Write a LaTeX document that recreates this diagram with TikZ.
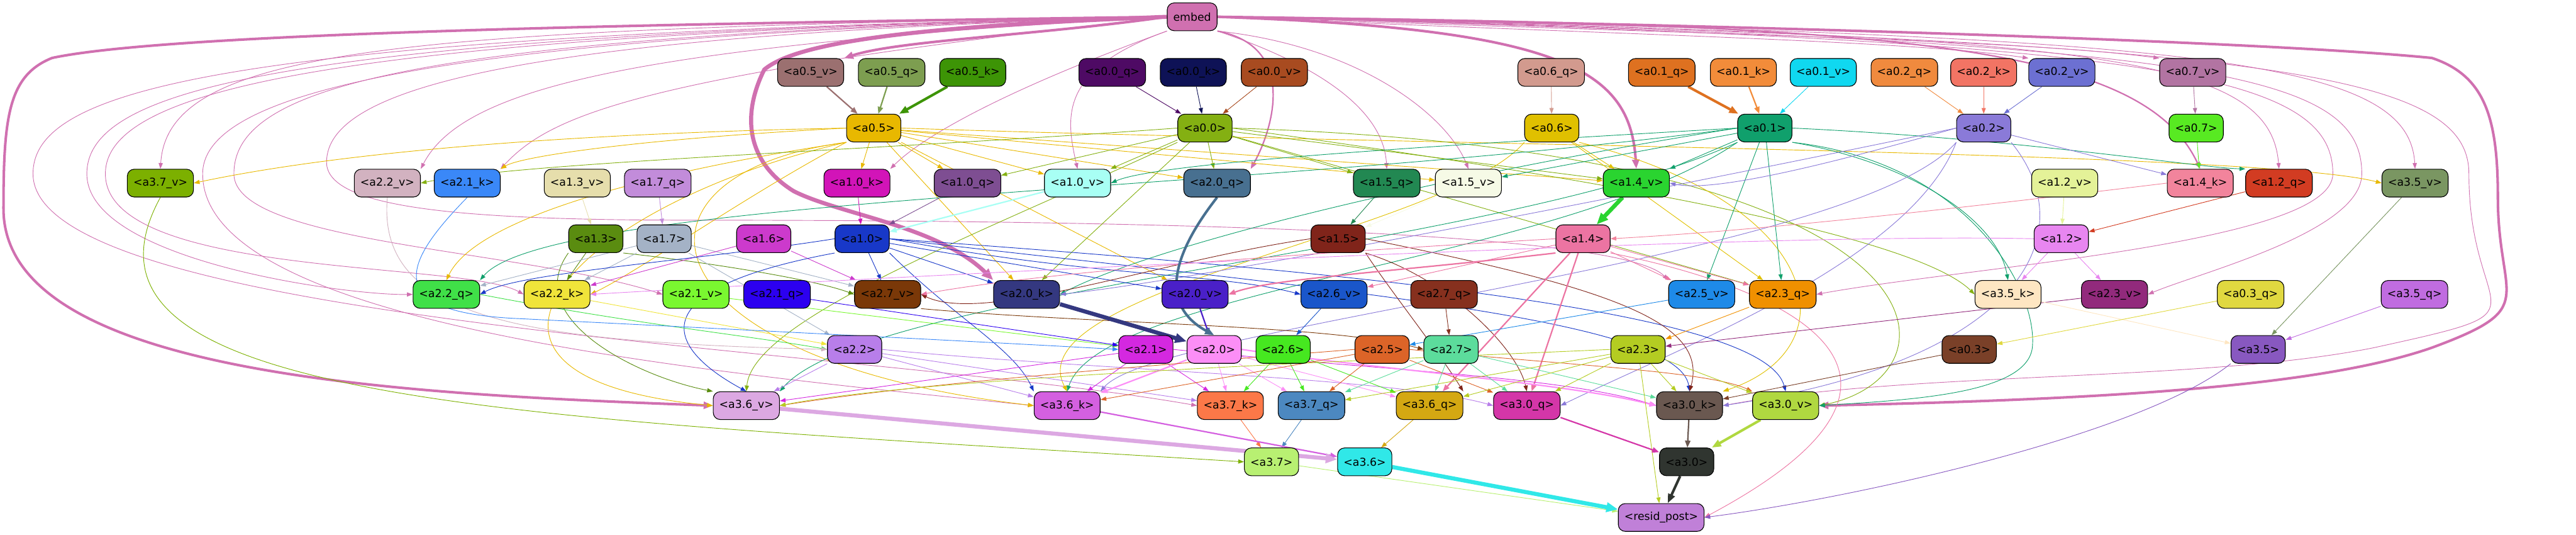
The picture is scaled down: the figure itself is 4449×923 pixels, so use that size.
\documentclass[tikz,border=0pt]{standalone}
\usepackage{fontspec}
\setmainfont{DejaVu Sans}
\usetikzlibrary{arrows.meta,backgrounds}
\newcommand{\tg}[1]{\textless#1\textgreater}
\definecolor{cembed}{HTML}{D070B0}
\definecolor{c05v}{HTML}{9B7070}\definecolor{c05q}{HTML}{7D9E50}\definecolor{c05k}{HTML}{3D9406}
\definecolor{c00q}{HTML}{4E0A64}\definecolor{c00k}{HTML}{0E1256}\definecolor{c00v}{HTML}{A84B20}
\definecolor{c06q}{HTML}{D29A8E}\definecolor{c01q}{HTML}{DE7120}\definecolor{c01k}{HTML}{F28C3A}
\definecolor{c01v}{HTML}{10D8F0}\definecolor{c02q}{HTML}{F08A3E}\definecolor{c02k}{HTML}{F27464}
\definecolor{c02v}{HTML}{6C70D2}\definecolor{c07v}{HTML}{B274A2}
\definecolor{c05}{HTML}{E8B800}\definecolor{c00}{HTML}{84B012}\definecolor{c06}{HTML}{E0C000}
\definecolor{c01}{HTML}{10A06C}\definecolor{c02}{HTML}{8A7AD8}\definecolor{c07}{HTML}{58EA22}
\definecolor{c37v}{HTML}{7CB000}\definecolor{c22v}{HTML}{D2B2C0}\definecolor{c21k}{HTML}{3A88F8}
\definecolor{c13v}{HTML}{E6DEAC}\definecolor{c17q}{HTML}{C28CDA}\definecolor{c10k}{HTML}{D214B8}
\definecolor{c10q}{HTML}{7E4E92}\definecolor{c10v}{HTML}{A8FFF4}\definecolor{c20q}{HTML}{487090}
\definecolor{c15q}{HTML}{228852}\definecolor{c15v}{HTML}{F6FAE6}\definecolor{c14v}{HTML}{2AD430}
\definecolor{c12v}{HTML}{E4F298}\definecolor{c14k}{HTML}{F2849C}\definecolor{c12q}{HTML}{D23C22}
\definecolor{c35v}{HTML}{7A9662}
\definecolor{c13}{HTML}{5A8C10}\definecolor{c17}{HTML}{A4B2C6}\definecolor{c16}{HTML}{CC3ACC}
\definecolor{c10}{HTML}{1838C8}\definecolor{c15}{HTML}{80241A}\definecolor{c14}{HTML}{EC74A2}
\definecolor{c12}{HTML}{E886F0}
\definecolor{c22q}{HTML}{40E048}\definecolor{c22k}{HTML}{F0E43A}\definecolor{c21v}{HTML}{7AF830}
\definecolor{c21q}{HTML}{2C00F0}\definecolor{c27v}{HTML}{7A3808}\definecolor{c20k}{HTML}{343880}
\definecolor{c20v}{HTML}{4A20C8}\definecolor{c26v}{HTML}{1A56CA}\definecolor{c27q}{HTML}{86301E}
\definecolor{c25v}{HTML}{1E8AE8}\definecolor{c23q}{HTML}{F09000}\definecolor{c35k}{HTML}{FEE6C2}
\definecolor{c23v}{HTML}{922A7C}\definecolor{c03q}{HTML}{E0D840}\definecolor{c35q}{HTML}{C06CE0}
\definecolor{c22}{HTML}{B87EEA}\definecolor{c21}{HTML}{D428E0}\definecolor{c20}{HTML}{FC8EF6}
\definecolor{c26}{HTML}{46E820}\definecolor{c25}{HTML}{DC6428}\definecolor{c27}{HTML}{5CDC9C}
\definecolor{c23}{HTML}{B4CC22}\definecolor{c03}{HTML}{7A4028}\definecolor{c35}{HTML}{8858C0}
\definecolor{c36v}{HTML}{DCA8E2}\definecolor{c36k}{HTML}{D460E0}\definecolor{c37k}{HTML}{FC7848}
\definecolor{c37q}{HTML}{4C88C0}\definecolor{c36q}{HTML}{D4A812}\definecolor{c30q}{HTML}{D436A8}
\definecolor{c30k}{HTML}{6A5850}\definecolor{c30v}{HTML}{B0D840}
\definecolor{c37}{HTML}{B8F072}\definecolor{c36}{HTML}{30E8E8}\definecolor{c30}{HTML}{303530}
\definecolor{cresid}{HTML}{C080D8}
\begin{document}
\begin{tikzpicture}[x=0.5pt, y=-0.5pt,
  blk/.style={draw=black, line width=0.6pt, rounded corners=6pt, minimum height=24pt,
    inner xsep=5.2pt, inner ysep=2pt, font=\fontsize{9.4}{11}\selectfont},
  ln/.style={-{Triangle[length=5pt,width=3.6pt]}, line width=0.5pt},
  lnm/.style={-{Triangle[length=6pt,width=4.6pt]}, line width=1.2pt},
  lnb/.style={-{Triangle[length=8pt,width=6pt]}, line width=2.2pt},
  lnh/.style={-{Triangle[length=10pt,width=8pt]}, line width=3.5pt}]
  \useasboundingbox (0,0) rectangle (4449,923);
  \node[blk, fill=cembed] (embed) at (2059,29) {embed};
  \node[blk, fill=c05v] (a05v) at (1400,125) {\tg{a0.5\_v}};
  \node[blk, fill=c05q] (a05q) at (1540,125) {\tg{a0.5\_q}};
  \node[blk, fill=c05k] (a05k) at (1680,125) {\tg{a0.5\_k}};
  \node[blk, fill=c00q] (a00q) at (1921,125) {\tg{a0.0\_q}};
  \node[blk, fill=c00k] (a00k) at (2061,125) {\tg{a0.0\_k}};
  \node[blk, fill=c00v] (a00v) at (2201,125) {\tg{a0.0\_v}};
  \node[blk, fill=c06q] (a06q) at (2679,125) {\tg{a0.6\_q}};
  \node[blk, fill=c01q] (a01q) at (2870,125) {\tg{a0.1\_q}};
  \node[blk, fill=c01k] (a01k) at (3011,125) {\tg{a0.1\_k}};
  \node[blk, fill=c01v] (a01v) at (3149,125) {\tg{a0.1\_v}};
  \node[blk, fill=c02q] (a02q) at (3289,125) {\tg{a0.2\_q}};
  \node[blk, fill=c02k] (a02k) at (3426,125) {\tg{a0.2\_k}};
  \node[blk, fill=c02v] (a02v) at (3561,125) {\tg{a0.2\_v}};
  \node[blk, fill=c07v] (a07v) at (3787,125) {\tg{a0.7\_v}};
  \node[blk, fill=c05] (a05) at (1509,221) {\tg{a0.5}};
  \node[blk, fill=c00] (a00) at (2081,221) {\tg{a0.0}};
  \node[blk, fill=c06] (a06) at (2680,221) {\tg{a0.6}};
  \node[blk, fill=c01] (a01) at (3048,221) {\tg{a0.1}};
  \node[blk, fill=c02] (a02) at (3426,221) {\tg{a0.2}};
  \node[blk, fill=c07] (a07) at (3793,221) {\tg{a0.7}};
  \node[blk, fill=c37v] (a37v) at (277,316) {\tg{a3.7\_v}};
  \node[blk, fill=c22v] (a22v) at (669,316) {\tg{a2.2\_v}};
  \node[blk, fill=c21k] (a21k) at (807,316) {\tg{a2.1\_k}};
  \node[blk, fill=c13v] (a13v) at (997,316) {\tg{a1.3\_v}};
  \node[blk, fill=c17q] (a17q) at (1136,316) {\tg{a1.7\_q}};
  \node[blk, fill=c10k] (a10k) at (1480,316) {\tg{a1.0\_k}};
  \node[blk, fill=c10q] (a10q) at (1671,316) {\tg{a1.0\_q}};
  \node[blk, fill=c10v] (a10v) at (1861,316) {\tg{a1.0\_v}};
  \node[blk, fill=c20q] (a20q) at (2102,316) {\tg{a2.0\_q}};
  \node[blk, fill=c15q] (a15q) at (2395,316) {\tg{a1.5\_q}};
  \node[blk, fill=c15v] (a15v) at (2536,316) {\tg{a1.5\_v}};
  \node[blk, fill=c14v] (a14v) at (2826,316) {\tg{a1.4\_v}};
  \node[blk, fill=c12v] (a12v) at (3566,316) {\tg{a1.2\_v}};
  \node[blk, fill=c14k] (a14k) at (3800,316) {\tg{a1.4\_k}};
  \node[blk, fill=c12q] (a12q) at (3936,316) {\tg{a1.2\_q}};
  \node[blk, fill=c35v] (a35v) at (4171,316) {\tg{a3.5\_v}};
  \node[blk, fill=c13] (a13) at (1029,412) {\tg{a1.3}};
  \node[blk, fill=c17] (a17) at (1147,412) {\tg{a1.7}};
  \node[blk, fill=c16] (a16) at (1319,412) {\tg{a1.6}};
  \node[blk, fill=c10] (a10) at (1489,412) {\tg{a1.0}};
  \node[blk, fill=c15] (a15) at (2311,412) {\tg{a1.5}};
  \node[blk, fill=c14] (a14) at (2734,412) {\tg{a1.4}};
  \node[blk, fill=c12] (a12) at (3560,412) {\tg{a1.2}};
  \node[blk, fill=c22q] (a22q) at (771,508) {\tg{a2.2\_q}};
  \node[blk, fill=c22k] (a22k) at (962,508) {\tg{a2.2\_k}};
  \node[blk, fill=c21v] (a21v) at (1202,508) {\tg{a2.1\_v}};
  \node[blk, fill=c21q] (a21q) at (1342,508) {\tg{a2.1\_q}};
  \node[blk, fill=c27v] (a27v) at (1533,508) {\tg{a2.7\_v}};
  \node[blk, fill=c20k] (a20k) at (1773,508) {\tg{a2.0\_k}};
  \node[blk, fill=c20v] (a20v) at (2064,508) {\tg{a2.0\_v}};
  \node[blk, fill=c26v] (a26v) at (2304,508) {\tg{a2.6\_v}};
  \node[blk, fill=c27q] (a27q) at (2494,508) {\tg{a2.7\_q}};
  \node[blk, fill=c25v] (a25v) at (2939,508) {\tg{a2.5\_v}};
  \node[blk, fill=c23q] (a23q) at (3079,508) {\tg{a2.3\_q}};
  \node[blk, fill=c35k] (a35k) at (3468,508) {\tg{a3.5\_k}};
  \node[blk, fill=c23v] (a23v) at (3652,508) {\tg{a2.3\_v}};
  \node[blk, fill=c03q] (a03q) at (3887,508) {\tg{a0.3\_q}};
  \node[blk, fill=c35q] (a35q) at (4170,508) {\tg{a3.5\_q}};
  \node[blk, fill=c22] (a22) at (1476,603) {\tg{a2.2}};
  \node[blk, fill=c21] (a21) at (1979,603) {\tg{a2.1}};
  \node[blk, fill=c20] (a20) at (2097,603) {\tg{a2.0}};
  \node[blk, fill=c26] (a26) at (2216,603) {\tg{a2.6}};
  \node[blk, fill=c25] (a25) at (2387,603) {\tg{a2.5}};
  \node[blk, fill=c27] (a27) at (2506,603) {\tg{a2.7}};
  \node[blk, fill=c23] (a23) at (2829,603) {\tg{a2.3}};
  \node[blk, fill=c03] (a03) at (3401,603) {\tg{a0.3}};
  \node[blk, fill=c35] (a35) at (3900,603) {\tg{a3.5}};
  \node[blk, fill=c36v] (a36v) at (1289,700) {\tg{a3.6\_v}};
  \node[blk, fill=c36k] (a36k) at (1843,700) {\tg{a3.6\_k}};
  \node[blk, fill=c37k] (a37k) at (2125,700) {\tg{a3.7\_k}};
  \node[blk, fill=c37q] (a37q) at (2265,700) {\tg{a3.7\_q}};
  \node[blk, fill=c36q] (a36q) at (2469,700) {\tg{a3.6\_q}};
  \node[blk, fill=c30q] (a30q) at (2637,700) {\tg{a3.0\_q}};
  \node[blk, fill=c30k] (a30k) at (2918,700) {\tg{a3.0\_k}};
  \node[blk, fill=c30v] (a30v) at (3084,700) {\tg{a3.0\_v}};
  \node[blk, fill=c37] (a37) at (2196,797) {\tg{a3.7}};
  \node[blk, fill=c36] (a36) at (2357,797) {\tg{a3.6}};
  \node[blk, fill=c30] (a30) at (2913,797) {\tg{a3.0}};
  \node[blk, fill=cresid] (resid) at (2869,893) {\tg{resid\_post}};
  \begin{pgfonlayer}{background}
  \draw[lnh, cembed] (embed.west) .. controls (1600,45) and (1380,70) .. (1320,120) .. controls (1280,200) and (1290,280) .. (1371,330) .. controls (1450,370) and (1620,390) .. (a20k.north west);
  \draw[lnb, cembed] (embed.west) .. controls (1200,40) and (300,55) .. (90,100) .. controls (15,130) and (6,200) .. (6,360) .. controls (6,650) and (700,680) .. (a36v.west);
  \draw[lnb, cembed] (embed.east) .. controls (2900,40) and (3900,70) .. (4200,100) .. controls (4290,130) and (4314,200) .. (4314,340) .. controls (4314,520) and (4390,530) .. (4200,600) .. controls (4000,670) and (3600,690) .. (a30v.east);
  \draw[lnb, cembed] (embed.west) .. controls (1800,60) and (1550,70) .. (a05v.north east);
  \draw[lnb, cembed] (embed.east) .. controls (2700,50) and (2815,120) .. (a14v.north);
  \draw[lnm, cembed] (embed.south east) .. controls (2240,80) and (2200,220) .. (a20q.north east);
  \draw[lnm, cembed] (embed.east) .. controls (3300,40) and (3700,80) .. (a14k.north);
  \draw[ln, cembed] (embed.west) .. controls (700,50) and (290,80) .. (a37v.north);
  \draw[ln, cembed] (embed.west) .. controls (1100,80) and (800,150) .. (a22v.north east);
  \draw[ln, cembed] (embed.west) .. controls (1100,130) and (950,200) .. (a21k.north east);
  \draw[ln, cembed] (embed.west) .. controls (500,60) and (150,150) .. (150,300) .. controls (150,450) and (600,510) .. (a22q.west);
  \draw[ln, cembed] (embed.west) .. controls (600,60) and (182,150) .. (182,300) .. controls (182,480) and (800,450) .. (a22k.west);
  \draw[ln, cembed] (embed.west) .. controls (700,60) and (404,150) .. (404,300) .. controls (404,420) and (900,430) .. (a21v.west);
  \draw[ln, cembed] (embed.west) .. controls (400,60) and (57,150) .. (57,300) .. controls (57,560) and (1500,600) .. (a37k.west);
  \draw[ln, cembed] (embed.west) .. controls (800,60) and (350,150) .. (350,300) .. controls (350,560) and (1200,640) .. (a36k.west);
  \draw[ln, cembed] (embed.west) .. controls (900,60) and (564,150) .. (564,280) .. controls (564,360) and (800,380) .. (1200,380) .. controls (2000,380) and (2800,400) .. (a25v.north west);
  \draw[ln, cembed] (embed.south west) .. controls (1750,150) and (1600,230) .. (a10k.north east);
  \draw[ln, cembed] (embed.south west) .. controls (1830,120) and (1840,200) .. (a10v.north);
  \draw[ln, cembed] (embed.south east) .. controls (2300,120) and (2390,200) .. (a15q.north);
  \draw[ln, cembed] (embed.south east) .. controls (2350,80) and (2500,200) .. (a15v.north);
  \draw[ln, cembed] (embed.east) .. controls (2800,60) and (3300,70) .. (a02v.north west);
  \draw[ln, cembed] (embed.east) .. controls (3000,60) and (3500,70) .. (a07v.north west);
  \draw[ln, cembed] (embed.east) .. controls (3600,60) and (3920,90) .. (a12q.north);
  \draw[ln, cembed] (embed.east) .. controls (3800,60) and (4160,100) .. (a35v.north);
  \draw[ln, cembed] (embed.east) .. controls (3700,70) and (4029,120) .. (4029,300) .. controls (4029,420) and (3400,460) .. (a23q.east);
  \draw[ln, cembed] (embed.east) .. controls (3800,70) and (4079,120) .. (4079,300) .. controls (4079,400) and (3800,470) .. (a23v.east);
  \draw[ln, cembed] (embed.east) .. controls (3900,70) and (4264,120) .. (4264,300) .. controls (4264,560) and (4420,530) .. (4100,600) .. controls (3800,660) and (3300,640) .. (a30k.east);
  \draw[lnm, c05v] (a05v) -- (a05);
  \draw[lnm, c05q] (a05q) -- (a05);
  \draw[lnb, c05k] (a05k) -- (a05);
  \draw[ln, c00q] (a00q) -- (a00);
  \draw[ln, c00k] (a00k) -- (a00);
  \draw[ln, c00v] (a00v) -- (a00);
  \draw[ln, c06q] (a06q) -- (a06);
  \draw[lnb, c01q] (a01q) -- (a01);
  \draw[lnm, c01k] (a01k) -- (a01);
  \draw[ln, c01v] (a01v) -- (a01);
  \draw[ln, c02q] (a02q) -- (a02);
  \draw[ln, c02k] (a02k) -- (a02);
  \draw[ln, c02v] (a02v) -- (a02);
  \draw[ln, c07v] (a07v) -- (a07);
  \draw[ln, c05] (a05) -- (a10k);
  \draw[ln, c05] (a05) -- (a10q);
  \draw[ln, c05] (a05) -- (a10v);
  \draw[ln, c05] (a05) -- (a20q);
  \draw[ln, c05] (a05.west) .. controls (1000,230) and (600,260) .. (a37v.east);
  \draw[ln, c05] (a05.west) .. controls (1100,240) and (900,270) .. (a21k.north east);
  \draw[ln, c05] (a05.south west) .. controls (1100,300) and (820,380) .. (a22q.north);
  \draw[ln, c05] (a05.south west) .. controls (1300,330) and (1100,470) .. (a22k.east);
  \draw[ln, c05] (a05) -- (a20k);
  \draw[ln, c05] (a05) -- (a20v);
  \draw[ln, c05] (a05) -- (a15v);
  \draw[ln, c05] (a05) -- (a14v);
  \draw[ln, c05] (a05.east) .. controls (2400,250) and (3900,260) .. (a35v.west);
  \draw[ln, c05] (a05.south west) .. controls (1000,350) and (700,650) .. (a36v.west);
  \draw[ln, c05] (a05.south west) .. controls (1050,300) and (1100,620) .. (a36k.west);
  \draw[ln, c00] (a00) -- (a10q);
  \draw[ln, c00] (a00) -- (a10v);
  \draw[ln, c00] (a00) -- (a20q);
  \draw[ln, c00] (a00.west) .. controls (1500,260) and (900,280) .. (a22v.east);
  \draw[ln, c00] (a00) -- (a15q);
  \draw[ln, c00] (a00) -- (a14v);
  \draw[ln, c00] (a00) -- (a20k);
  \draw[ln, c00] (a00.east) .. controls (2700,300) and (3300,400) .. (a35k.west);
  \draw[ln, c00] (a00) -- (a23q);
  \draw[ln, c00] (a00.south west) .. controls (1700,400) and (1300,550) .. (a36v.north);
  \draw[ln, c00] (a00.east) .. controls (3400,260) and (3400,650) .. (a30v.east);
  \draw[ln, c06] (a06) -- (a14v);
  \draw[ln, c06] (a06) -- (a23q);
  \draw[ln, c06] (a06.south east) .. controls (3150,350) and (3200,600) .. (a30k.north east);
  \draw[ln, c06] (a06.south west) .. controls (2500,400) and (1750,500) .. (a36k.north);
  \draw[ln, c01] (a01.west) .. controls (2500,250) and (2000,280) .. (a10v.east);
  \draw[ln, c01] (a01) -- (a15v);
  \draw[ln, c01] (a01) -- (a14v);
  \draw[ln, c01] (a01.east) .. controls (3500,240) and (3800,290) .. (a12q.north west);
  \draw[ln, c01] (a01.west) .. controls (2200,330) and (950,340) .. (a22q.north east);
  \draw[ln, c01] (a01.west) .. controls (2500,300) and (2000,420) .. (a20k.east);
  \draw[ln, c01] (a01) -- (a25v);
  \draw[ln, c01] (a01) -- (a23q);
  \draw[ln, c01] (a01.south east) .. controls (3300,280) and (3450,380) .. (a35k.north);
  \draw[ln, c01] (a01.south west) .. controls (2700,450) and (1900,500) .. (a36k.north);
  \draw[ln, c01] (a01.south west) .. controls (2600,430) and (1500,500) .. (a36v.north east);
  \draw[ln, c01] (a01.south east) .. controls (3400,280) and (3520,500) .. (3510,600) .. controls (3500,680) and (3300,690) .. (a30v.east);
  \draw[ln, c02] (a02.west) .. controls (3100,300) and (2950,330) .. (a14v.east);
  \draw[ln, c02] (a02) -- (a14k);
  \draw[ln, c02] (a02.west) .. controls (3000,300) and (2100,480) .. (a20k.east);
  \draw[ln, c02] (a02.south west) .. controls (3200,450) and (2000,560) .. (a36k.north east);
  \draw[ln, c02] (a02.south west) .. controls (3300,450) and (2900,600) .. (a30q.east);
  \draw[ln, c02] (a02.south east) .. controls (3600,400) and (3500,620) .. (a30k.east);
  \draw[ln, c07] (a07) -- (a14k);
  \draw[ln, c13v] (a13v) -- (a13);
  \draw[ln, c17q] (a17q) -- (a17);
  \draw[ln, c10k] (a10k) -- (a10);
  \draw[ln, c10q] (a10q) -- (a10);
  \draw[lnm, c10v] (a10v) -- (a10);
  \draw[ln, c15q] (a15q) -- (a15);
  \draw[ln, c15v] (a15v) -- (a15);
  \draw[lnh, c14v] (a14v) -- (a14);
  \draw[ln, c12v] (a12v) -- (a12);
  \draw[ln, c12q] (a12q) -- (a12);
  \draw[ln, c14k] (a14k.west) .. controls (3300,370) and (3000,400) .. (a14.east);
  \draw[ln, c13] (a13) -- (a22k);
  \draw[ln, c13] (a13.south east) .. controls (1200,450) and (1400,480) .. (a27v.west);
  \draw[ln, c13] (a13.south west) .. controls (900,550) and (1100,650) .. (a36v.north west);
  \draw[ln, c17] (a17) -- (a22q);
  \draw[ln, c17] (a17) -- (a22k);
  \draw[ln, c17] (a17) -- (a27v);
  \draw[ln, c17] (a17) -- (a22);
  \draw[ln, c16] (a16) -- (a27v);
  \draw[ln, c16] (a16) -- (a22k);
  \draw[ln, c10] (a10) -- (a27v);
  \draw[ln, c10] (a10) -- (a20k);
  \draw[ln, c10] (a10) -- (a20v);
  \draw[ln, c10] (a10.west) .. controls (1200,450) and (900,470) .. (a22q.east);
  \draw[ln, c10] (a10.south west) .. controls (1100,500) and (1150,600) .. (a36v.north);
  \draw[ln, c10] (a10.south east) .. controls (1650,550) and (1750,600) .. (a36k.north west);
  \draw[ln, c10] (a10.east) .. controls (2300,500) and (2900,550) .. (a30k.north);
  \draw[ln, c10] (a10.east) .. controls (2500,480) and (3050,550) .. (a30v.north);
  \draw[ln, c10] (a10.east) .. controls (1900,480) and (2100,470) .. (a26v.west);
  \draw[ln, c15] (a15.west) .. controls (2000,450) and (1700,560) .. (a27v.east);
  \draw[ln, c15] (a15.south east) .. controls (2400,500) and (2480,600) .. (a36q.north east);
  \draw[ln, c15] (a15.south east) .. controls (2500,480) and (2620,600) .. (a30q.north);
  \draw[ln, c15] (a15.east) .. controls (2800,500) and (2950,560) .. (a30k.north);
  \draw[lnm, c14] (a14.south west) .. controls (2400,470) and (2200,480) .. (a20v.east);
  \draw[ln, c14] (a14) -- (a26v);
  \draw[ln, c14] (a14) -- (a25v);
  \draw[ln, c14] (a14) -- (a23q);
  \draw[lnm, c14] (a14) -- (a36q);
  \draw[lnm, c14] (a14) -- (a30q);
  \draw[ln, c14] (a14.south east) .. controls (3100,500) and (3400,650) .. (resid.east);
  \draw[ln, c14] (a14.west) .. controls (2200,440) and (1800,470) .. (a27v.east);
  \draw[ln, c12] (a12) -- (a35k);
  \draw[ln, c12] (a12) -- (a23v);
  \draw[ln, c12] (a12.west) .. controls (3000,400) and (1500,480) .. (a22k.east);
  \draw[ln, c22q] (a22q.east) .. controls (1100,560) and (1300,580) .. (a22.west);
  \draw[ln, c22k] (a22k) -- (a22);
  \draw[ln, c22v] (a22v.south) .. controls (650,550) and (900,590) .. (a22.west);
  \draw[ln, c21k] (a21k.south) .. controls (700,450) and (650,540) .. (900,550) .. controls (1300,570) and (1700,590) .. (a21.west);
  \draw[ln, c21v] (a21v) -- (a21);
  \draw[ln, c21q] (a21q) -- (a21);
  \draw[ln, c27v] (a27v.south east) .. controls (1900,560) and (2300,560) .. (a27.west);
  \draw[ln, c27q] (a27q) -- (a27);
  \draw[lnh, c20k] (a20k) -- (a20);
  \draw[lnm, c20v] (a20v) -- (a20);
  \draw[lnb, c20q] (a20q.south) .. controls (2040,420) and (1990,520) .. (a20.north);
  \draw[ln, c26v] (a26v) -- (a26);
  \draw[ln, c25v] (a25v) -- (a25);
  \draw[ln, c23q] (a23q) -- (a23);
  \draw[ln, c23v] (a23v) -- (a23);
  \draw[ln, c35k] (a35k) -- (a35);
  \draw[ln, c35q] (a35q) -- (a35);
  \draw[ln, c35v] (a35v) -- (a35);
  \draw[ln, c03q] (a03q) -- (a03);
  \draw[ln, c22] (a22) -- (a36v);
  \draw[ln, c22] (a22) -- (a36k);
  \draw[ln, c22] (a22) -- (a37k);
  \draw[ln, c22] (a22.east) .. controls (1900,640) and (2400,650) .. (a30q.west);
  \draw[ln, c21] (a21) -- (a36v);
  \draw[ln, c21] (a21) -- (a36k);
  \draw[ln, c21] (a21) -- (a37k);
  \draw[ln, c21] (a21.east) .. controls (2400,640) and (2700,650) .. (a30k.west);
  \draw[lnm, c20] (a20) -- (a36k);
  \draw[ln, c20] (a20) -- (a37k);
  \draw[ln, c20] (a20) -- (a37q);
  \draw[ln, c20] (a20) -- (a36q);
  \draw[lnm, c20] (a20.east) .. controls (2400,640) and (2700,660) .. (a30k.west);
  \draw[ln, c26] (a26) -- (a37k);
  \draw[ln, c26] (a26) -- (a37q);
  \draw[ln, c26] (a26) -- (a36q);
  \draw[ln, c25] (a25.west) .. controls (2000,630) and (1600,660) .. (a36v.east);
  \draw[ln, c25] (a25) -- (a36k);
  \draw[ln, c25] (a25) -- (a37q);
  \draw[ln, c25] (a25) -- (a30q);
  \draw[ln, c25] (a25.east) .. controls (2700,630) and (2950,640) .. (a30v.north west);
  \draw[ln, c27] (a27) -- (a37q);
  \draw[ln, c27] (a27) -- (a36q);
  \draw[ln, c27] (a27) -- (a30q);
  \draw[ln, c27] (a27) -- (a30k);
  \draw[ln, c23] (a23.west) .. controls (2400,620) and (1600,650) .. (a36v.east);
  \draw[ln, c23] (a23) -- (a37q);
  \draw[ln, c23] (a23) -- (a36q);
  \draw[ln, c23] (a23) -- (a30q);
  \draw[ln, c23] (a23) -- (a30k);
  \draw[ln, c23] (a23) -- (a30v);
  \draw[ln, c23] (a23) -- (resid);
  \draw[ln, c03] (a03) -- (a30k);
  \draw[ln, c35] (a35.south west) .. controls (3700,750) and (3200,860) .. (resid.east);
  \draw[ln, c37q] (a37q) -- (a37);
  \draw[ln, c37k] (a37k) -- (a37);
  \draw[ln, c37v] (a37v.south) .. controls (80,700) and (900,720) .. (a37.west);
  \draw[ln, c36q] (a36q) -- (a36);
  \draw[lnm, c36k] (a36k) -- (a36);
  \draw[lnh, c36v] (a36v) -- (a36);
  \draw[lnm, c30q] (a30q) -- (a30);
  \draw[lnm, c30k] (a30k) -- (a30);
  \draw[lnb, c30v] (a30v) -- (a30);
  \draw[ln, c37] (a37) -- (resid);
  \draw[lnh, c36] (a36) -- (resid);
  \draw[lnb, c30] (a30) -- (resid);
  \end{pgfonlayer}
\end{tikzpicture}
\end{document}
